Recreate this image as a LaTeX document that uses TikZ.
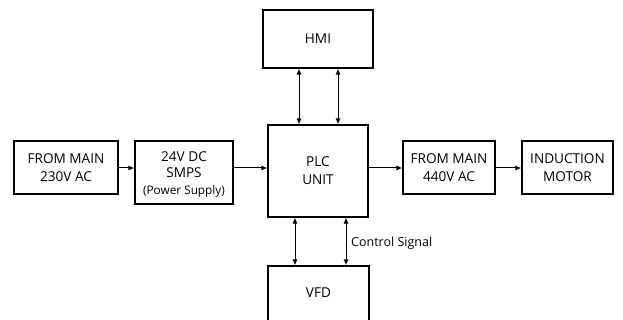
\documentclass[tikz,border=0pt]{standalone}
\usepackage{fontspec}
\setmainfont{Open Sans}
\usetikzlibrary{arrows.meta}
\begin{document}
\begin{tikzpicture}[x=1pt,y=-1pt,
  blk/.style={draw=black,line width=1.1pt,inner sep=0pt,align=center,font=\fontsize{13.6}{18}\selectfont},
  arr/.style={line width=1pt,-{Latex[length=6pt,width=5pt]}},
  darr/.style={line width=1pt,{Latex[length=6pt,width=5pt]}-{Latex[length=6pt,width=5pt]}}]
\useasboundingbox (0,0) rectangle (623,320);
\clip (0,0) rectangle (623,320);
\node[blk,minimum width=104pt,minimum height=53pt] (main1) at (66,167.5) {FROM MAIN\\230V AC};
\node[blk,minimum width=98pt,minimum height=63pt] (smps) at (184,172.5) {};
\node[align=center,font=\fontsize{13.6}{16}\selectfont] (smpst) at (184,164.5) {24V DC\\SMPS};
\node[font=\fontsize{11.8}{14}\selectfont] (smpsp) at (184,191) {(Power Supply)};
\node[blk,minimum width=100pt,minimum height=92pt] (plc) at (318,171) {PLC\\UNIT};
\node[blk,minimum width=110pt,minimum height=58pt] (hmi) at (318,39) {HMI};
\node[blk,minimum width=101pt,minimum height=70pt] (vfd) at (318.5,301) {};
\node[font=\fontsize{13.6}{16}\selectfont] (vfdt) at (318.5,293) {VFD};
\node[blk,minimum width=92pt,minimum height=53pt] (main2) at (449,167.5) {FROM MAIN\\440V AC};
\node[blk,minimum width=91pt,minimum height=53pt] (motor) at (567.5,167.5) {INDUCTION\\MOTOR};
\coordinate (ya) at (0,168);
\draw[arr] (main1.east |- ya) -- (smps.west |- ya);
\draw[arr] (smps.east |- ya) -- (plc.west |- ya);
\draw[arr] (plc.east |- ya) -- (main2.west |- ya);
\draw[arr] (main2.east |- ya) -- (motor.west |- ya);
\coordinate (h1) at (299,0);
\coordinate (h2) at (338,0);
\draw[darr] (h1 |- hmi.south) -- (h1 |- plc.north);
\draw[darr] (h2 |- hmi.south) -- (h2 |- plc.north);
\coordinate (v1) at (295,0);
\coordinate (v2) at (346,0);
\draw[darr] (v1 |- plc.south) -- (v1 |- vfd.north);
\draw[darr] (v2 |- plc.south) -- (v2 |- vfd.north);
\node[font=\fontsize{12.5}{15}\selectfont,anchor=west,inner sep=0pt] (cs) at (351,243) {Control Signal};
\end{tikzpicture}
\end{document}
